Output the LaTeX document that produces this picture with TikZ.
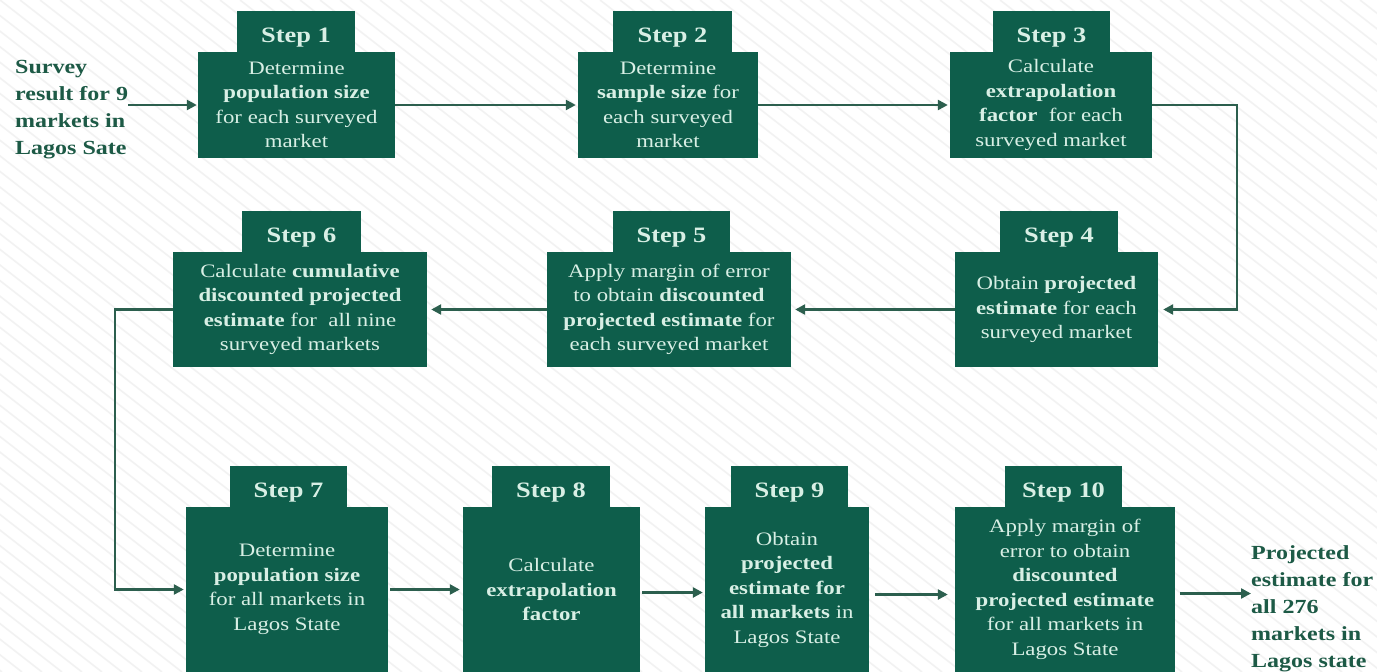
\documentclass[tikz,border=0pt]{standalone}
\usepackage{fontspec}
\setmainfont{Liberation Serif}[FakeStretch=1.2]
\usetikzlibrary{arrows.meta}
\definecolor{boxgreen}{HTML}{0E5E4B}
\definecolor{boxtext}{HTML}{D8EFE5}
\definecolor{linegreen}{HTML}{2C5F4E}
\definecolor{labelgreen}{HTML}{1D5A46}
\definecolor{stripe}{HTML}{F2F2F2}
\tikzset{
  body/.style={fill=boxgreen, text=boxtext, inner sep=0pt, align=center, font=\fontsize{19}{24.5}\selectfont},
  tabbox/.style={fill=boxgreen, text=boxtext, inner sep=0pt, text height=25pt, text depth=4pt, font=\bfseries\fontsize{22}{24}\selectfont},
  flow/.style={draw=linegreen, line width=2.4pt, -{Triangle[length=10pt,width=10pt]}},
  side/.style={text=labelgreen, font=\bfseries\fontsize{20}{27}\selectfont, align=left, inner sep=0pt},
}
% #1 name, #2 x1, #3 y1, #4 x2, #5 y2, #6 tab x1, #7 tab x2, #8 title, #9 text
\newcommand\stepnode[9]{%
  \node[tabbox, minimum width={(#7-#6)*1pt}, minimum height=41pt] (#1t) at ({(#6+#7)/2},{#3-20.5}) {#8};
  \node[body, minimum width={(#4-#2)*1pt}, minimum height={(#5-#3)*1pt}] (#1) at ({(#2+#4)/2},{(#3+#5)/2}) {#9};
}
\begin{document}
\begin{tikzpicture}[x=1pt,y=-1pt]
\useasboundingbox (0,0) rectangle (1377,672);
\fill[white] (0,0) rectangle (1377,672);
\begin{scope}
  \clip (0,0) rectangle (1377,672);
  \foreach \x in {-900,-880,...,1380} \draw[stripe, line width=1.6pt] (\x,0) -- ++(862,672);
\end{scope}

\stepnode{s1}{198}{52}{395}{158}{237}{355}{Step 1}{Determine\\\textbf{population size}\\for each surveyed\\market}
\stepnode{s2}{578}{52}{758}{158}{613}{732}{Step 2}{Determine\\\textbf{sample size} for\\each surveyed\\market}
\stepnode{s3}{950}{52}{1152}{158}{993}{1110}{Step 3}{Calculate\\\textbf{extrapolation}\\\textbf{factor}\ \ for each\\surveyed market}
\stepnode{s4}{955}{252}{1158}{367}{1000}{1118}{Step 4}{Obtain \textbf{projected}\\\textbf{estimate} for each\\surveyed market}
\stepnode{s5}{547}{252}{791}{367}{613}{730}{Step 5}{Apply margin of error\\to obtain \textbf{discounted}\\\textbf{projected estimate} for\\each surveyed market}
\stepnode{s6}{173}{252}{427}{367}{242}{361}{Step 6}{Calculate \textbf{cumulative}\\\textbf{discounted projected}\\\textbf{estimate} for\ \ all nine\\surveyed markets}
\stepnode{s7}{186}{507}{388}{672}{230}{347}{Step 7}{Determine\\\textbf{population size}\\for all markets in\\Lagos State}
\stepnode{s8}{463}{507}{640}{672}{492}{610}{Step 8}{Calculate\\\textbf{extrapolation}\\\textbf{factor}}
\stepnode{s9}{705}{507}{869}{672}{731}{848}{Step 9}{Obtain\\\textbf{projected}\\\textbf{estimate for}\\\textbf{all markets} in\\Lagos State}
\stepnode{s10}{955}{507}{1175}{672}{1005}{1122}{Step 10}{Apply margin of\\error to obtain\\\textbf{discounted}\\\textbf{projected estimate}\\for all markets in\\Lagos State}

\node[side, anchor=west] (survey) at (15,110) {Survey\\result for 9\\markets in\\Lagos Sate};
\node[side, anchor=west] (out) at (1251,609) {Projected\\estimate for\\all 276\\markets in\\Lagos state};

\draw[flow, shorten >=1pt] (survey.east |- s1.west) -- (s1.west);
\draw[flow, shorten >=2pt] (s1.east) -- (s2.west);
\draw[flow, shorten >=2pt] (s2.east) -- (s3.west);
\draw[flow, shorten >=5pt] (s3.east) -- ++(85,0) |- (s4.east);
\draw[flow, shorten >=4pt] (s4.west) -- (s5.east);
\draw[flow, shorten >=4pt] (s5.west) -- (s6.east);
\draw[flow, shorten >=2pt] (s6.west) -- ++(-58,0) |- (s7.west);
\draw[flow, shorten <=2pt, shorten >=3pt] (s7.east) -- (s8.west);
\draw[flow, shorten <=2pt, shorten >=2pt] ([yshift=-3pt]s8.east) -- ([yshift=-3pt]s9.west);
\draw[flow, shorten <=6pt, shorten >=7pt] ([yshift=-5pt]s9.east) -- ([yshift=-5pt]s10.west);
\draw[flow, shorten <=5pt] ([yshift=-4pt]s10.east) -- ([yshift=-4pt]out.west |- s10.east);
\end{tikzpicture}
\end{document}
